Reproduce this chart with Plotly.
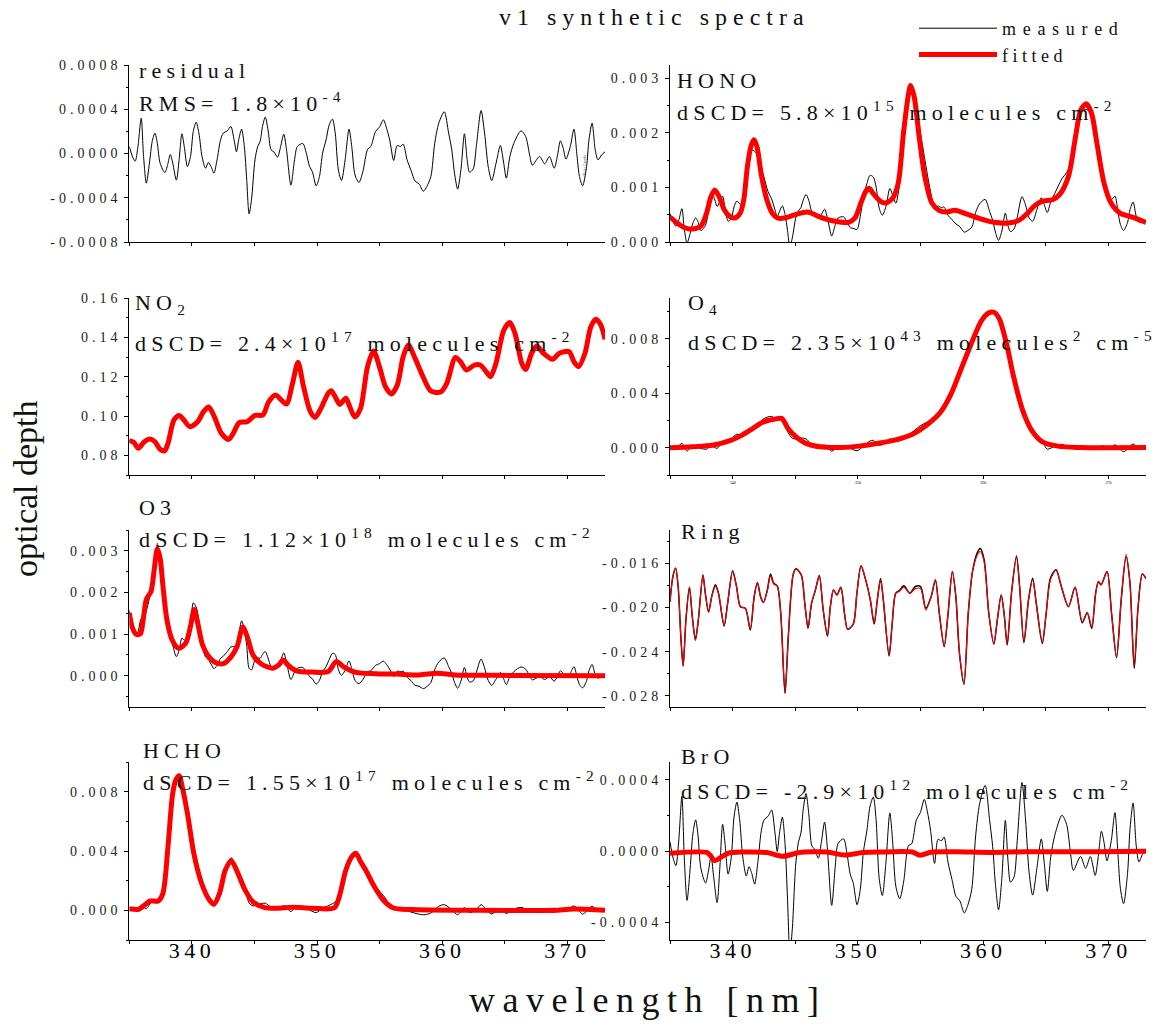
import plotly.graph_objects as go
from plotly.subplots import make_subplots

# Values
wavelength = [
    335.00, 335.25, 335.47, 335.69, 335.95, 336.14, 336.36, 336.61, 336.83, 337.05, 337.24, 337.46, 337.84, 338.06, 338.28,
    338.47, 338.76, 338.98, 339.20, 339.39, 339.64, 339.89, 340.11, 340.34, 340.56, 340.81, 341.09, 341.31, 341.53, 341.76,
    342.01, 342.29, 342.51, 342.83, 343.11, 343.37, 343.56, 343.74, 343.97, 344.19, 344.38, 344.57, 344.76, 345.04, 345.26,
    345.45, 345.64, 345.86, 346.08, 346.33, 346.55, 346.84, 347.09, 347.34, 347.56, 347.91, 348.20, 348.42, 348.86, 349.14,
    349.40, 349.62, 349.93, 350.19, 350.44, 350.72, 350.97, 351.23, 351.45, 351.70, 351.95, 352.24, 352.55, 352.77, 353.03,
    353.34, 353.66, 354.04, 354.29, 354.67, 354.98, 355.30, 355.55, 355.80, 356.12, 356.40, 356.66, 356.88, 357.19, 357.51,
    357.83, 358.14, 358.49, 358.77, 359.09, 359.40, 359.72, 360.16, 360.51, 360.76, 360.98, 361.23, 361.49, 361.77, 361.99,
    362.18, 362.47, 362.72, 363.10, 363.38, 363.67, 363.95, 364.30, 364.64, 364.87, 365.12, 365.40, 365.72, 366.29, 366.66,
    366.98, 367.20, 367.77, 368.18, 368.56, 368.94, 369.19, 369.44, 369.66, 369.88, 370.23, 370.52, 370.77, 370.96, 371.21,
    371.53, 371.72, 371.97, 372.22, 372.44, 372.73, 373.00,
]

residual = [
    0.000063, -0.000027, -0.000069, 0.000063, 0.000319, -0.000027, -0.000268, -0.000087, 0.000109, 0.000184, 0.000093, -0.000087, -0.000172, -0.000102, -0.000009,
    -0.000087, -0.000241, -0.000057, 0.000178, 0.000063, -0.000118, -0.000027, 0.000199, 0.000283, 0.000184, -0.000027, -0.000133, -0.000081, -0.000118, -0.000178,
    -0.000057, 0.000124, 0.000184, 0.000205, 0.000244, 0.000124, 0.000015, 0.000124, 0.000220, 0.000063, -0.000238, -0.000546, -0.000419, -0.000057, 0.000063,
    0.000109, 0.000244, 0.000329, 0.000214, 0.000033, 0.000015, -0.000033, 0.000063, 0.000175, 0.000033, -0.000286, -0.000057, 0.000063, 0.000090, 0.000003,
    -0.000118, -0.000163, -0.000292, -0.000208, 0.000003, 0.000124, 0.000259, 0.000310, 0.000184, -0.000148, -0.000244, -0.000057, 0.000220, 0.000063, -0.000193,
    -0.000262, -0.000163, 0.000039, 0.000063, 0.000199, 0.000238, 0.000304, 0.000229, 0.000124, -0.000063, 0.000072, 0.000063, 0.000084, -0.000057, -0.000154,
    -0.000250, -0.000274, -0.000341, -0.000298, -0.000208, 0.000093, 0.000274, 0.000377, 0.000184, 0.000033, -0.000178, -0.000322, -0.000148, 0.000178, -0.000057,
    -0.000169, -0.000139, 0.000063, 0.000389, 0.000184, -0.000118, -0.000244, -0.000087, 0.000072, -0.000057, -0.000223, -0.000027, 0.000093, 0.000205, 0.000154,
    -0.000012, -0.000105, -0.000027, -0.000093, -0.000027, -0.000133, -0.000027, 0.000115, 0.000048, -0.000051, 0.000063, 0.000220, -0.000027, -0.000208, -0.000292,
    -0.000118, 0.000124, 0.000274, 0.000033, -0.000057, -0.000012, 0.000015,
]

hono_measured = [
    0.00052, 0.00037, 0.00029, 0.00039, 0.00061, 0.00024, -0.00002, 0.00016, 0.00035, 0.00044, 0.00037, 0.00021, 0.00031, 0.00055, 0.00082,
    0.00083, 0.00065, 0.00074, 0.00084, 0.00062, 0.00038, 0.00043, 0.00064, 0.00075, 0.00070, 0.00067, 0.00106, 0.00147, 0.00168, 0.00166,
    0.00159, 0.00135, 0.00118, 0.00092, 0.00079, 0.00060, 0.00046, 0.00056, 0.00066, 0.00050, 0.00021, -0.00008, 0.00007, 0.00044, 0.00057,
    0.00063, 0.00077, 0.00087, 0.00076, 0.00055, 0.00051, 0.00044, 0.00051, 0.00060, 0.00045, 0.00011, 0.00032, 0.00044, 0.00046, 0.00036,
    0.00026, 0.00025, 0.00023, 0.00047, 0.00082, 0.00107, 0.00122, 0.00119, 0.00101, 0.00062, 0.00049, 0.00065, 0.00098, 0.00086, 0.00071,
    0.00109, 0.00187, 0.00274, 0.00286, 0.00255, 0.00202, 0.00157, 0.00123, 0.00092, 0.00060, 0.00066, 0.00063, 0.00064, 0.00049, 0.00041,
    0.00033, 0.00028, 0.00018, 0.00021, 0.00027, 0.00054, 0.00070, 0.00078, 0.00056, 0.00040, 0.00018, 0.00003, 0.00020, 0.00053, 0.00029,
    0.00019, 0.00024, 0.00045, 0.00083, 0.00068, 0.00044, 0.00038, 0.00060, 0.00081, 0.00069, 0.00054, 0.00074, 0.00089, 0.00116, 0.00127,
    0.00142, 0.00160, 0.00237, 0.00243, 0.00237, 0.00187, 0.00167, 0.00146, 0.00112, 0.00085, 0.00077, 0.00084, 0.00053, 0.00032, 0.00021,
    0.00036, 0.00059, 0.00073, 0.00047, 0.00036, 0.00038, 0.00038,
]

o3_measured = [
    0.00157, 0.00112, 0.00097, 0.00105, 0.00137, 0.00137, 0.00156, 0.00187, 0.00231, 0.00283, 0.00314, 0.00274, 0.00158, 0.00115, 0.00097,
    0.00073, 0.00046, 0.00061, 0.00090, 0.00086, 0.00083, 0.00116, 0.00175, 0.00165, 0.00133, 0.00077, 0.00045, 0.00039, 0.00028, 0.00017,
    0.00025, 0.00042, 0.00047, 0.00058, 0.00069, 0.00070, 0.00069, 0.00097, 0.00132, 0.00111, 0.00073, 0.00018, 0.00014, 0.00038, 0.00043,
    0.00042, 0.00051, 0.00058, 0.00043, 0.00022, 0.00020, 0.00021, 0.00037, 0.00055, 0.00032, -0.00009, 0.00009, 0.00018, 0.00020, 0.00010,
    -0.00002, -0.00007, -0.00020, -0.00011, 0.00010, 0.00022, 0.00039, 0.00054, 0.00051, 0.00015, 0.00001, 0.00013, 0.00036, 0.00017, -0.00011,
    -0.00019, -0.00009, 0.00010, 0.00012, 0.00025, 0.00029, 0.00035, 0.00027, 0.00016, -0.00002, 0.00011, 0.00010, 0.00011, -0.00003, -0.00012,
    -0.00023, -0.00025, -0.00031, -0.00026, -0.00016, 0.00015, 0.00033, 0.00043, 0.00022, 0.00006, -0.00016, -0.00030, -0.00013, 0.00020, -0.00004,
    -0.00015, -0.00012, 0.00008, 0.00040, 0.00019, -0.00011, -0.00023, -0.00008, 0.00008, -0.00005, -0.00021, -0.00002, 0.00010, 0.00021, 0.00016,
    -0.00001, -0.00010, -0.00002, -0.00009, -0.00002, -0.00013, -0.00002, 0.00012, 0.00005, -0.00005, 0.00006, 0.00022, -0.00003, -0.00021, -0.00029,
    -0.00012, 0.00012, 0.00027, 0.00003, -0.00006, -0.00001, 0.00001,
]

bro_measured = [
    0.000050, -0.000040, -0.000082, 0.000050, 0.000307, -0.000038, -0.000278, -0.000097, 0.000099, 0.000175, 0.000085, -0.000095, -0.000180, -0.000115, -0.000030,
    -0.000135, -0.000290, -0.000093, 0.000150, 0.000045, -0.000130, -0.000037, 0.000190, 0.000275, 0.000176, -0.000033, -0.000140, -0.000088, -0.000126, -0.000186,
    -0.000065, 0.000115, 0.000175, 0.000195, 0.000230, 0.000108, -0.000003, 0.000100, 0.000190, 0.000033, -0.000268, -0.000572, -0.000442, -0.000072, 0.000052,
    0.000100, 0.000237, 0.000323, 0.000209, 0.000028, 0.000010, -0.000040, 0.000053, 0.000162, 0.000018, -0.000305, -0.000080, 0.000042, 0.000068, -0.000020,
    -0.000135, -0.000176, -0.000302, -0.000216, -0.000005, 0.000116, 0.000252, 0.000303, 0.000177, -0.000154, -0.000250, -0.000063, 0.000214, 0.000057, -0.000199,
    -0.000268, -0.000169, 0.000030, 0.000040, 0.000175, 0.000215, 0.000290, 0.000220, 0.000117, -0.000070, 0.000066, 0.000057, 0.000078, -0.000062, -0.000160,
    -0.000255, -0.000280, -0.000348, -0.000305, -0.000215, 0.000085, 0.000266, 0.000369, 0.000176, 0.000025, -0.000186, -0.000330, -0.000155, 0.000172, -0.000063,
    -0.000175, -0.000145, 0.000057, 0.000385, 0.000180, -0.000122, -0.000248, -0.000091, 0.000068, -0.000061, -0.000227, -0.000031, 0.000089, 0.000201, 0.000150,
    -0.000016, -0.000109, -0.000031, -0.000097, -0.000031, -0.000137, -0.000031, 0.000111, 0.000044, -0.000055, 0.000059, 0.000216, -0.000031, -0.000212, -0.000296,
    -0.000122, 0.000120, 0.000270, 0.000029, -0.000061, -0.000016, 0.000013,
]

hono_fit_wl = [
    335.00, 335.65, 336.22, 336.84, 337.49, 337.92, 338.26, 338.57, 338.91, 339.33, 339.76, 340.18, 340.61, 340.89, 341.18, 341.46, 341.69,
    341.94, 342.31, 342.73, 343.16, 343.58, 344.15, 345.00, 345.99, 346.98, 348.12, 349.25, 349.76, 350.24, 350.67, 350.89, 351.29, 351.80,
    352.22, 352.79, 353.22, 353.64, 354.01, 354.21, 354.49, 354.92, 355.34, 355.91, 356.47, 357.04, 357.75, 358.60, 359.73, 360.86, 362.00,
    362.85, 363.56, 364.12, 364.69, 365.54, 366.10, 366.81, 367.38, 367.80, 368.23, 368.65, 369.08, 369.65, 370.21, 370.92, 371.91, 373.00,
]
hono_fitted = [
    0.000457, 0.000335, 0.000256, 0.000238, 0.000299, 0.000530, 0.000823, 0.000951, 0.000835, 0.000591, 0.000470, 0.000439, 0.000530, 0.000774, 0.001384, 0.001750, 0.001872,
    0.001750, 0.001201, 0.000774, 0.000530, 0.000439, 0.000439, 0.000500, 0.000549, 0.000457, 0.000384, 0.000360, 0.000439, 0.000713, 0.000945, 0.000982, 0.000866, 0.000744,
    0.000713, 0.000805, 0.001079, 0.001994, 0.002665, 0.002866, 0.002665, 0.001872, 0.001201, 0.000713, 0.000579, 0.000549, 0.000579, 0.000518, 0.000427, 0.000360, 0.000348,
    0.000396, 0.000530, 0.000665, 0.000744, 0.000774, 0.000866, 0.001201, 0.001933, 0.002421, 0.002530, 0.002360, 0.001811, 0.001079, 0.000713, 0.000530, 0.000457, 0.000360,
]

no2_wl = [
    335.00, 335.35, 335.73, 336.20, 336.67, 337.05, 337.46, 337.81, 338.09, 338.57, 338.98, 339.36, 339.83, 340.46, 340.93, 341.34, 341.79,
    342.35, 342.92, 343.30, 343.78, 344.41, 345.04, 345.67, 346.14, 346.68, 347.15, 347.56, 348.04, 348.48, 348.92, 349.46, 349.84, 350.31,
    350.88, 351.13, 351.51, 351.82, 352.30, 352.61, 353.02, 353.47, 354.03, 354.51, 354.98, 355.46, 355.93, 356.41, 356.88, 357.29, 357.83,
    358.46, 359.09, 359.88, 360.36, 361.05, 361.46, 361.93, 362.56, 363.03, 363.51, 363.85, 364.29, 364.92, 365.40, 365.81, 366.35, 366.66,
    367.14, 367.55, 368.08, 368.81, 369.35, 370.13, 370.52, 370.89, 371.40, 371.87, 372.28, 372.66, 373.00,
]
no2_fitted = [
    0.0875, 0.0866, 0.0836, 0.0869, 0.0883, 0.0869, 0.0831, 0.0822, 0.0861, 0.0980, 0.1003, 0.0980, 0.0946, 0.0971, 0.1022, 0.1046, 0.0997,
    0.0912, 0.0881, 0.0912, 0.0966, 0.0971, 0.1003, 0.1005, 0.1073, 0.1107, 0.1081, 0.1061, 0.1166, 0.1273, 0.1149, 0.1022, 0.0993, 0.1039,
    0.1115, 0.1129, 0.1090, 0.1059, 0.1090, 0.1047, 0.0995, 0.1039, 0.1251, 0.1331, 0.1251, 0.1149, 0.1112, 0.1158, 0.1302, 0.1361, 0.1293,
    0.1200, 0.1127, 0.1122, 0.1166, 0.1298, 0.1276, 0.1234, 0.1259, 0.1259, 0.1225, 0.1200, 0.1268, 0.1437, 0.1475, 0.1420, 0.1268, 0.1237,
    0.1319, 0.1356, 0.1319, 0.1288, 0.1319, 0.1327, 0.1276, 0.1251, 0.1319, 0.1454, 0.1492, 0.1463, 0.1390,
]

o4_measured_wl = [
    335.00, 335.47, 335.95, 336.36, 336.83, 337.46, 337.91, 338.28, 338.76, 339.20, 339.64, 340.11, 340.34, 340.81, 341.31, 341.76, 342.51, 343.11,
    343.56, 343.97, 344.38, 344.76, 345.04, 345.45, 345.86, 346.33, 346.84, 347.34, 347.91, 348.42, 349.14, 349.93, 350.44, 350.97, 351.23, 351.70,
    352.24, 352.55, 353.03, 353.66, 354.29, 354.98, 355.55, 356.61, 357.46, 358.31, 359.16, 359.87, 360.44, 360.86, 361.29, 361.86, 362.43, 363.14,
    363.85, 364.70, 365.12, 365.72, 366.29, 366.98, 367.77, 368.94, 369.44, 370.23, 370.52, 371.21, 371.97, 372.44, 373.00,
]
o4_measured = [
    0.00006, -0.00006, 0.00033, -0.00024, 0.00018, -0.00005, -0.00010, 0.00015, -0.00004, 0.00042, 0.00035, 0.00085, 0.00100, 0.00090, 0.00125, 0.00145, 0.00215, 0.00230,
    0.00205, 0.00230, 0.00120, 0.00070, 0.00065, 0.00072, 0.00065, 0.00025, 0.00003, 0.00020, -0.00025, 0.00008, 0.00005, -0.00022, 0.00012, 0.00050, 0.00055, 0.00018,
    0.00038, 0.00065, 0.00045, 0.00070, 0.00110, 0.00162, 0.00190, 0.00270, 0.00382, 0.00570, 0.00775, 0.00955, 0.01005, 0.00998, 0.00930, 0.00775, 0.00510, 0.00305,
    0.00110, 0.00050, -0.00010, 0.00012, 0.00025, -0.00001, -0.00003, -0.00013, 0.00012, 0.00006, 0.00022, -0.00029, 0.00027, -0.00006, 0.00001,
]
o4_fit_wl = [
    335.00, 336.78, 338.48, 339.90, 340.75, 341.60, 342.45, 343.30, 343.92, 344.43, 345.00, 345.85, 346.98, 348.68, 350.10, 351.52, 352.93, 354.35,
    355.48, 356.61, 357.46, 358.31, 359.16, 359.87, 360.44, 360.86, 361.29, 361.86, 362.43, 363.14, 363.85, 364.70, 365.97, 367.67, 370.00, 373.00,
]
o4_fitted = [
    0.00000, 0.00007, 0.00020, 0.00056, 0.00093, 0.00141, 0.00190, 0.00210, 0.00215, 0.00141, 0.00085, 0.00032, 0.00007, 0.00002, 0.00012, 0.00032, 0.00056, 0.00100,
    0.00166, 0.00263, 0.00400, 0.00595, 0.00790, 0.00934, 0.00990, 0.00995, 0.00946, 0.00766, 0.00522, 0.00278, 0.00132, 0.00046, 0.00012, 0.00002, 0.00000, 0.00002,
]

o3_fit_wl = [
    335.00, 335.25, 335.57, 335.89, 336.11, 336.36, 336.74, 336.99, 337.24, 337.46, 337.69, 338.00, 338.41, 338.95, 339.52, 339.89, 340.18,
    340.46, 340.84, 341.25, 341.88, 342.51, 343.14, 343.62, 344.06, 344.41, 344.88, 345.52, 346.47, 346.94, 347.28, 347.73, 348.36, 349.62,
    350.89, 351.52, 352.15, 353.10, 354.68, 356.26, 358.16, 359.58, 361.00, 364.17, 373.00,
]
o3_fitted = [
    0.00151, 0.00115, 0.00099, 0.00101, 0.00135, 0.00183, 0.00203, 0.00255, 0.00305, 0.00283, 0.00215, 0.00135, 0.00087, 0.00066, 0.00079, 0.00119, 0.00159,
    0.00127, 0.00075, 0.00050, 0.00032, 0.00029, 0.00046, 0.00071, 0.00117, 0.00095, 0.00050, 0.00029, 0.00018, 0.00026, 0.00038, 0.00024, 0.00012, 0.00009,
    0.00010, 0.00034, 0.00021, 0.00008, 0.00005, 0.00004, 0.00002, 0.00006, 0.00002, 0.00001, 0.00000,
]

ring_wl = [
    335.00, 335.23, 335.45, 335.65, 335.88, 336.05, 336.27, 336.55, 336.78, 337.03, 337.26, 337.63, 337.82, 338.08, 338.33, 338.62, 338.87, 339.32, 339.60, 340.00,
    340.31, 340.62, 341.02, 341.41, 341.72, 341.98, 342.23, 342.46, 342.77, 343.02, 343.28, 343.56, 343.84, 344.18, 344.46, 344.83, 345.06, 345.48, 345.76, 346.02,
    346.30, 346.61, 346.92, 347.23, 347.57, 347.80, 348.05, 348.33, 348.64, 348.93, 349.18, 349.63, 349.92, 350.25, 350.62, 350.99, 351.30, 351.55, 351.81, 352.03,
    352.49, 352.74, 353.02, 353.31, 353.67, 354.15, 354.58, 355.00, 355.42, 355.85, 356.19, 356.50, 356.89, 357.20, 357.54, 357.82, 358.11, 358.47, 358.81, 359.15,
    359.52, 359.77, 360.08, 360.45, 360.85, 361.13, 361.44, 361.67, 361.92, 362.26, 362.66, 362.91, 363.25, 363.62, 363.95, 364.24, 364.72, 365.03, 365.37, 365.82,
    366.24, 366.81, 367.34, 367.91, 368.31, 368.67, 368.98, 369.21, 369.41, 369.89, 370.25, 370.65, 371.02, 371.41, 371.72, 372.06, 372.37, 372.71, 373.00,
]
ring_measured = [
    -0.01947, -0.01721, -0.01645, -0.01811, -0.02294, -0.02530, -0.02114, -0.01818, -0.02083, -0.02294, -0.02114, -0.01706, -0.01872, -0.02041, -0.01902, -0.01796, -0.01872, -0.02168, -0.01963, -0.01669,
    -0.01811, -0.01993, -0.02008, -0.02204, -0.01902, -0.01775, -0.01902, -0.01956, -0.01842, -0.01697, -0.01781, -0.01805, -0.02053, -0.02778, -0.02234, -0.01706, -0.01651, -0.01706, -0.01963, -0.02189,
    -0.01963, -0.01842, -0.01712, -0.02023, -0.02259, -0.01993, -0.01842, -0.01887, -0.01818, -0.02053, -0.02198, -0.02150, -0.01872, -0.01624, -0.01751, -0.01932, -0.02150, -0.01932, -0.01739, -0.01932,
    -0.02440, -0.02144, -0.01872, -0.01848, -0.01805, -0.01872, -0.01811, -0.01811, -0.02008, -0.01902, -0.01751, -0.02053, -0.02355, -0.02053, -0.01676, -0.01902, -0.02416, -0.02694, -0.02053, -0.01676,
    -0.01509, -0.01467, -0.01570, -0.02053, -0.02331, -0.02114, -0.01887, -0.02053, -0.02340, -0.01872, -0.01534, -0.01811, -0.02319, -0.01932, -0.01736, -0.01963, -0.02325, -0.02053, -0.01736, -0.01660,
    -0.01811, -0.01993, -0.01818, -0.02138, -0.02047, -0.02189, -0.01872, -0.01766, -0.01796, -0.01676, -0.02053, -0.02455, -0.01932, -0.01540, -0.01781, -0.02552, -0.01993, -0.01697, -0.01739,
]
ring_fitted = [
    -0.01947, -0.01721, -0.01645, -0.01811, -0.02294, -0.02530, -0.02114, -0.01818, -0.02083, -0.02294, -0.02114, -0.01706, -0.01872, -0.02041, -0.01902, -0.01810, -0.01872, -0.02160, -0.01963, -0.01675,
    -0.01811, -0.01993, -0.02008, -0.02195, -0.01902, -0.01775, -0.01910, -0.01956, -0.01850, -0.01715, -0.01790, -0.01805, -0.02053, -0.02770, -0.02234, -0.01700, -0.01651, -0.01706, -0.01963, -0.02180,
    -0.01963, -0.01842, -0.01712, -0.02023, -0.02250, -0.01993, -0.01842, -0.01887, -0.01818, -0.02053, -0.02198, -0.02150, -0.01872, -0.01624, -0.01751, -0.01932, -0.02140, -0.01932, -0.01745, -0.01932,
    -0.02430, -0.02144, -0.01872, -0.01855, -0.01818, -0.01872, -0.01830, -0.01830, -0.02025, -0.01902, -0.01751, -0.02053, -0.02345, -0.02053, -0.01676, -0.01902, -0.02416, -0.02670, -0.02053, -0.01676,
    -0.01530, -0.01495, -0.01590, -0.02053, -0.02325, -0.02114, -0.01887, -0.02053, -0.02330, -0.01872, -0.01545, -0.01811, -0.02310, -0.01932, -0.01750, -0.01963, -0.02315, -0.02053, -0.01750, -0.01660,
    -0.01811, -0.01993, -0.01818, -0.02130, -0.02047, -0.02180, -0.01872, -0.01766, -0.01796, -0.01676, -0.02053, -0.02445, -0.01932, -0.01520, -0.01781, -0.02530, -0.01993, -0.01697, -0.01739,
]

hcho_measured_wl = [
    335.00, 335.47, 335.95, 336.36, 336.83, 337.30, 337.68, 338.09, 338.47, 338.73, 338.98, 339.27, 339.68, 340.15, 340.78, 341.41, 341.76, 342.20, 342.67,
    343.14, 343.62, 344.25, 344.57, 344.88, 345.26, 345.86, 346.33, 346.84, 347.34, 347.91, 348.20, 348.86, 349.40, 349.93, 350.44, 351.23, 351.77, 352.30,
    352.78, 353.10, 353.47, 353.88, 354.51, 355.30, 356.09, 356.66, 357.51, 358.49, 359.09, 359.72, 360.16, 360.76, 361.23, 361.77, 362.18, 362.72, 363.10,
    363.67, 363.95, 364.64, 365.12, 365.72, 366.29, 366.98, 367.77, 368.94, 369.44, 369.88, 370.52, 371.21, 371.97, 372.44, 373.00,
]
hcho_measured = [
    0.00017, 0.00004, 0.00030, 0.00012, 0.00060, 0.00065, 0.00110, 0.00431, 0.00790, 0.00870, 0.00905, 0.00830, 0.00630, 0.00395, 0.00180, 0.00062, 0.00030, 0.00120, 0.00280,
    0.00355, 0.00270, 0.00140, 0.00050, 0.00030, 0.00040, 0.00048, 0.00020, 0.00012, 0.00030, -0.00008, 0.00013, 0.00025, 0.00002, -0.00015, 0.00014, 0.00045, 0.00080, 0.00265,
    0.00365, 0.00375, 0.00310, 0.00260, 0.00175, 0.00100, 0.00012, 0.00012, -0.00012, -0.00030, -0.00018, 0.00027, 0.00038, 0.00005, -0.00030, 0.00018, -0.00015, 0.00005, 0.00038,
    -0.00010, -0.00024, 0.00006, -0.00021, 0.00009, 0.00020, -0.00001, -0.00003, -0.00013, 0.00010, -0.00003, 0.00030, -0.00025, 0.00028, -0.00006, 0.00001,
]
hcho_fit_wl = [
    335.00, 335.73, 336.20, 336.67, 337.30, 337.68, 338.09, 338.47, 338.73, 338.98, 339.27, 339.68, 340.15, 340.78, 341.41, 341.76, 342.20, 342.67, 343.14, 343.62, 344.25,
    344.88, 345.83, 346.78, 348.04, 349.62, 351.36, 351.77, 352.30, 352.78, 353.10, 353.47, 353.88, 354.51, 355.30, 356.09, 357.51, 362.56, 368.87, 370.45, 373.00,
]
hcho_fitted = [
    0.00011, 0.00007, 0.00034, 0.00063, 0.00063, 0.00113, 0.00431, 0.00790, 0.00881, 0.00907, 0.00816, 0.00635, 0.00385, 0.00181, 0.00068, 0.00041, 0.00113, 0.00272, 0.00335, 0.00261, 0.00136,
    0.00057, 0.00018, 0.00014, 0.00020, 0.00014, 0.00016, 0.00091, 0.00272, 0.00363, 0.00385, 0.00329, 0.00272, 0.00170, 0.00068, 0.00016, 0.00005, 0.00000, 0.00000, 0.00009, 0.00000,
]

bro_fit_wl = [
    335.00, 337.92, 338.20, 338.54, 339.05, 339.62, 340.75, 342.73, 344.00, 345.28, 346.41, 347.54, 348.96, 350.37, 351.79, 354.34, 354.97, 355.90, 357.74, 360.58, 363.41, 369.07, 373.00,
]
bro_fitted = [
    -0.000013, -0.000008, -0.000023, -0.000054, -0.000036, -0.000013, -0.000006, -0.000009, -0.000030, -0.000009, -0.000004, -0.000006, -0.000023, -0.000009, -0.000006, -0.000006, -0.000024, -0.000006, -0.000004, -0.000008, -0.000004, -0.000004, -0.000002,
]

x_tick_vals = [340, 350, 360, 370]
x_tick_text = ["340", "350", "360", "370"]

residual_ticks = [-0.0008, -0.0004, 0.0, 0.0004, 0.0008]
residual_labels = ["-0.0008", "-0.0004", "0.0000", "0.0004", "0.0008"]
hono_ticks = [0.0, 0.001, 0.002, 0.003]
hono_labels = ["0.000", "0.001", "0.002", "0.003"]
no2_ticks = [0.08, 0.10, 0.12, 0.14, 0.16]
no2_labels = ["0.08", "0.10", "0.12", "0.14", "0.16"]
o4_ticks = [0.0, 0.004, 0.008]
o4_labels = ["0.000", "0.004", "0.008"]
o3_ticks = [0.0, 0.001, 0.002, 0.003]
o3_labels = ["0.000", "0.001", "0.002", "0.003"]
ring_ticks = [-0.028, -0.024, -0.020, -0.016]
ring_labels = ["-0.028", "-0.024", "-0.020", "-0.016"]
hcho_ticks = [0.0, 0.004, 0.008]
hcho_labels = ["0.000", "0.004", "0.008"]
bro_ticks = [-0.0004, 0.0, 0.0004]
bro_labels = ["-0.0004", "0.0000", "0.0004"]

WIDTH = 1155
HEIGHT = 1024
SERIF = "Liberation Serif"
RED = "#ff0000"


def px_x(x):
    return x / WIDTH


def px_y(y):
    return 1 - y / HEIGHT


# row, col, top px, bottom px, y range, ticks, labels, minor step
panels = [
    (1, 1, 65, 242, [-0.0008, 0.0008], residual_ticks, residual_labels, 0.0002),
    (1, 2, 65, 242, [0.0, 0.00324], hono_ticks, hono_labels, 0.0005),
    (2, 1, 298, 475, [0.07, 0.16], no2_ticks, no2_labels, 0.01),
    (2, 2, 298, 475, [-0.002, 0.011], o4_ticks, o4_labels, 0.002),
    (3, 1, 530, 707, [-0.00075, 0.0035], o3_ticks, o3_labels, 0.0005),
    (3, 2, 530, 707, [-0.029, -0.013], ring_ticks, ring_labels, 0.002),
    (4, 1, 762, 940, [-0.002, 0.01], hcho_ticks, hcho_labels, 0.002),
    (4, 2, 762, 940, [-0.0005, 0.0005], bro_ticks, bro_labels, 0.0002),
]

fig = make_subplots(rows=4, cols=2)

for row, col, top, bottom, y_range, ticks, labels, minor_step in panels:
    left, right = (129.3, 605) if col == 1 else (670, 1146)
    bottom_row = row == 4
    tiny_labels = row == 2 and col == 2
    fig.update_xaxes(
        row=row, col=col,
        domain=[px_x(left), px_x(right)],
        range=[335, 373],
        tickvals=x_tick_vals,
        ticktext=x_tick_text,
        showticklabels=bottom_row or tiny_labels,
        tickfont=dict(family=SERIF, size=4 if tiny_labels else 22, color="black"),
        ticklabelstandoff=0 if tiny_labels else -12,
        ticks="outside", ticklen=3, tickwidth=1, tickcolor="black",
        minor=dict(tick0=335, dtick=5, ticks="outside", ticklen=3, tickwidth=1, tickcolor="black"),
        showline=True, linecolor="black", linewidth=1,
        showgrid=False, zeroline=False,
    )
    fig.update_yaxes(
        row=row, col=col,
        domain=[px_y(bottom), px_y(top)],
        range=y_range,
        tickvals=ticks,
        ticktext=labels,
        tickfont=dict(family=SERIF, size=14, color="#222222"),
        ticks="outside", ticklen=4, tickwidth=1, tickcolor="black",
        minor=dict(dtick=minor_step, ticks="outside", ticklen=2, tickwidth=1, tickcolor="black"),
        showline=True, linecolor="black", linewidth=1,
        showgrid=False, zeroline=False,
    )


def add_measured(row, col, x, y, name=None, width=1):
    fig.add_trace(go.Scatter(
        x=x, y=y, mode="lines", name=name or "measured", showlegend=name is not None,
        line=dict(color="black", width=width, shape="spline", smoothing=0.8),
    ), row=row, col=col)


def add_fitted(row, col, x, y, name=None, width=5):
    fig.add_trace(go.Scatter(
        x=x, y=y, mode="lines", name=name or "fitted", showlegend=name is not None,
        line=dict(color=RED, width=width, shape="spline", smoothing=0.8),
    ), row=row, col=col)


add_measured(1, 1, wavelength, residual, name="measured")
add_measured(1, 2, wavelength, hono_measured)
add_fitted(1, 2, hono_fit_wl, hono_fitted, name="fitted")
add_measured(2, 1, no2_wl, no2_fitted)
add_fitted(2, 1, no2_wl, no2_fitted)
add_measured(2, 2, o4_measured_wl, o4_measured)
add_fitted(2, 2, o4_fit_wl, o4_fitted)
add_measured(3, 1, wavelength, o3_measured)
add_fitted(3, 1, o3_fit_wl, o3_fitted)
add_measured(3, 2, ring_wl, ring_measured, width=1.5)
add_fitted(3, 2, ring_wl, ring_fitted, width=1.1)
add_measured(4, 1, hcho_measured_wl, hcho_measured)
add_fitted(4, 1, hcho_fit_wl, hcho_fitted)
add_measured(4, 2, wavelength, bro_measured)
add_fitted(4, 2, bro_fit_wl, bro_fitted)

# text, left px, middle px
panel_labels = [
    ("residual", 137, 70),
    ("RMS= 1.8×10<sup>-4</sup>", 137, 102),
    ("HONO", 675, 80),
    ("dSCD= 5.8×10<sup>15</sup> molecules cm<sup>-2</sup>", 675, 111),
    ("NO<sub>2</sub>", 133, 304),
    ("dSCD= 2.4×10<sup>17</sup> molecules cm<sup>-2</sup>", 133, 342),
    ("O<sub>4</sub>", 686, 304),
    ("dSCD= 2.35×10<sup>43</sup> molecules<sup>2</sup> cm<sup>-5</sup>", 686, 341),
    ("O3", 137, 507),
    ("dSCD= 1.12×10<sup>18</sup> molecules cm<sup>-2</sup>", 137, 538),
    ("Ring", 679, 531),
    ("HCHO", 141, 750),
    ("dSCD= 1.55×10<sup>17</sup> molecules cm<sup>-2</sup>", 141, 781),
    ("BrO", 679, 756),
    ("dSCD= -2.9×10<sup>12</sup> molecules cm<sup>-2</sup>", 679, 790),
]

annotations = [
    dict(text=text, x=px_x(x), y=px_y(y), xref="paper", yref="paper",
         xanchor="left", yanchor="middle", align="left", showarrow=False,
         font=dict(family=SERIF, size=22, color="#111111"))
    for text, x, y in panel_labels
]
annotations.append(dict(
    text="Title (Graph)", x=px_x(584), y=px_y(165), xref="paper", yref="paper",
    xanchor="center", yanchor="middle", textangle=-90, showarrow=False,
    font=dict(family=SERIF, size=4, color="#555555"),
))
annotations.append(dict(
    text="optical depth", x=px_x(25), y=px_y(489), xref="paper", yref="paper",
    xanchor="center", yanchor="middle", textangle=-90, showarrow=False,
    font=dict(family=SERIF, size=34, color="#111111"),
))
annotations.append(dict(
    text="wavelength [nm]", x=px_x(467), y=px_y(1000), xref="paper", yref="paper",
    xanchor="left", yanchor="middle", align="left", showarrow=False,
    font=dict(family=SERIF, size=36, color="#111111"),
))

fig.update_layout(
    width=WIDTH, height=HEIGHT,
    margin=dict(l=0, r=0, t=0, b=0, autoexpand=False),
    paper_bgcolor="white", plot_bgcolor="white",
    title=dict(text="v1 synthetic spectra", x=px_x(499), xanchor="left", xref="container",
               y=px_y(17), yanchor="middle", yref="container",
               font=dict(family=SERIF, size=24, color="#111111")),
    legend=dict(x=px_x(914), y=px_y(10), xanchor="left", yanchor="top",
                bgcolor="rgba(0,0,0,0)", itemwidth=78, entrywidth=130,
                font=dict(family=SERIF, size=18, color="#111111")),
    annotations=annotations,
)

# plotly has no letter spacing option, so it is set on the drawn text
spacing_js = """
document.body.style.margin = '0';
function spaced(selector, value) {
    document.querySelectorAll(selector).forEach(function (el) { el.style.letterSpacing = value; });
}
spaced('.annotation-text', '5.2px');
spaced('.annotation[data-index="15"] .annotation-text', '0px');
spaced('.annotation[data-index="16"] .annotation-text', '0px');
spaced('.annotation[data-index="17"] .annotation-text', '7.5px');
spaced('.gtitle', '6px');
spaced('.legendtext', '6.7px');
document.querySelectorAll('.legendtext')[1].style.letterSpacing = '4.5px';
spaced('.yaxislayer-above text', '4px');
document.querySelectorAll('.xaxislayer-above text').forEach(function (el) {
    if (parseFloat(getComputedStyle(el).fontSize) > 10) { el.style.letterSpacing = '4.5px'; }
});
document.querySelectorAll('.legend .scrollbox').forEach(function (el) { el.removeAttribute('clip-path'); });
"""

fig.write_html("out.html", post_script=spacing_js, config={"displayModeBar": False})
